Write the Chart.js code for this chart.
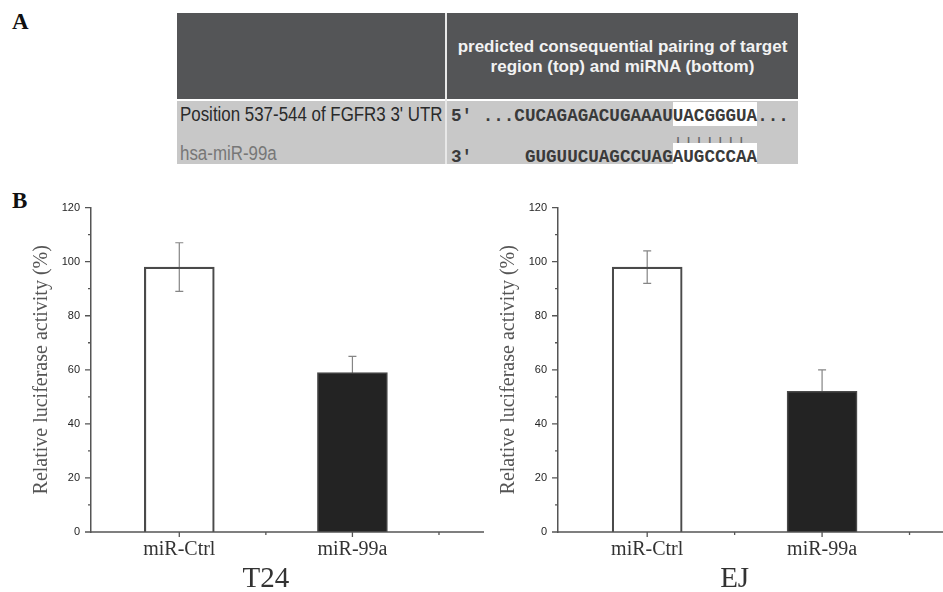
<!DOCTYPE html>
<html>
<head>
<meta charset="utf-8">
<script src="https://cdn.jsdelivr.net/npm/chart.js@4.4.1/dist/chart.umd.min.js"></script>
<style>
  html, body { margin: 0; padding: 0; background: #fff; }
  body { width: 943px; height: 592px; overflow: hidden; position: relative; }
  .abs { position: absolute; white-space: pre; }
  .letter { font: bold 23px "Liberation Serif", serif; line-height: 1; color: #111; }
  .head { background: #545557; }
  .rows { background: #c8c8c8; }
  .htxt { font: bold 17px "Liberation Sans", Arial, sans-serif; color: #f2f2f2; line-height: 20px; text-align: center; }
  .ltxt { font: 20px "Liberation Sans", Arial, sans-serif; line-height: 20px; transform-origin: 0 0; transform: scaleX(0.845); }
  .seq { font: bold 17.6px "Liberation Mono", "Courier New", monospace; line-height: 20px; color: #3a3a3a; }
  .pipes { font: 17.6px "Liberation Mono", "Courier New", monospace; line-height: 20px; color: #666; }
  .hl { background: #fff; padding-top: 4px; }
  canvas { position: absolute; }
</style>
</head>
<body>
<div class="abs letter" style="left:12px; top:10px;">A</div>
<div class="abs letter" style="left:12px; top:189px;">B</div>

<div class="abs head" style="left:177px; top:13px; width:621px; height:86px;"></div>
<div class="abs rows" style="left:177px; top:101px; width:621px; height:63px;"></div>
<div class="abs" style="left:445px; top:13px; width:2px; height:151px; background:#e8e8e8;"></div>
<div class="abs htxt" style="left:447px; top:37px; width:351px;">predicted consequential pairing of target
region (top) and miRNA (bottom)</div>

<div class="abs ltxt" style="left:180px; top:104px; color:#2a2a2a;">Position 537-544 of FGFR3 3' UTR</div>
<div class="abs ltxt" style="left:180px; top:143px; color:#777;">hsa-miR-99a</div>

<div class="abs seq" style="left:451px; top:106px;">5' ...CUCAGAGACUGAAAU<span class="hl">UACGGGUA</span>...</div>
<div class="abs pipes" style="left:451px; top:135px;">                     |||||||</div>
<div class="abs seq" style="left:451px; top:147px;">3'     GUGUUCUAGCCUAG<span class="hl">AUGCCCAA</span></div>

<canvas id="chartT24" width="484" height="402" style="left:0px; top:190px;"></canvas>
<canvas id="chartEJ" width="488" height="402" style="left:467px; top:190px;"></canvas>

<script>
'use strict';
let groups=['miR-Ctrl', 'miR-99a'];
let groupPos=[1, 2];
let t24Values=[98, 59];
let t24Errors=[9, 6];
let ejValues=[98, 52];
let ejErrors=[6, 8];
let yMin=0;
let yMax=120;
let yStep=20;
let yMinorStep=10;
let xMinorTicks=[1.5, 2.5];
let barFills=['rgba(255,255,255,0)', '#232323'];

let serif='"Liberation Serif", "Times New Roman", serif';
let sans='"Liberation Sans", Arial, sans-serif';

// error bars go under the bars, so the black bar hides its lower half
let errorBars={
  id: 'errorBars',
  beforeDatasetsDraw(chart, args, opts){
    let ctx=chart.ctx;
    let xs=chart.scales.x;
    let ys=chart.scales.y;
    ctx.save();
    ctx.strokeStyle='#858585';
    ctx.lineWidth=1.2;
    for(let i=0; i<opts.values.length; i++){
      let x=xs.getPixelForValue(groupPos[i]);
      let top=ys.getPixelForValue(opts.values[i]+opts.errors[i]);
      let bot=ys.getPixelForValue(opts.values[i]-opts.errors[i]);
      ctx.beginPath();
      ctx.moveTo(x, top); ctx.lineTo(x, bot);
      ctx.moveTo(x-4, top); ctx.lineTo(x+4, top);
      ctx.moveTo(x-4, bot); ctx.lineTo(x+4, bot);
      ctx.stroke();
    }
    ctx.restore();
  }
};

// x axis line, outward tick marks (major + minor) and the cell line name
let axisExtras={
  id: 'axisExtras',
  afterDraw(chart, args, opts){
    let ctx=chart.ctx;
    let xs=chart.scales.x;
    let ys=chart.scales.y;
    let area=chart.chartArea;
    ctx.save();
    ctx.strokeStyle='#555';
    ctx.lineWidth=1.5;
    ctx.beginPath();
    ctx.moveTo(area.left, area.bottom);
    ctx.lineTo(area.right, area.bottom);
    ctx.stroke();
    ctx.lineWidth=1.3;
    ctx.beginPath();
    for(let v=yMin; v<=yMax; v+=yMinorStep){
      let y=ys.getPixelForValue(v);
      let len=(v % yStep===0) ? 6 : 3;
      ctx.moveTo(area.left-len, y); ctx.lineTo(area.left, y);
    }
    for(let i=0; i<groupPos.length; i++){
      let x=xs.getPixelForValue(groupPos[i]);
      ctx.moveTo(x, area.bottom); ctx.lineTo(x, area.bottom+5);
    }
    for(let i=0; i<xMinorTicks.length; i++){
      let x=xs.getPixelForValue(xMinorTicks[i]);
      ctx.moveTo(x, area.bottom); ctx.lineTo(x, area.bottom+3);
    }
    ctx.stroke();
    ctx.fillStyle='#333';
    ctx.font='29px '+serif;
    ctx.textAlign='center';
    ctx.textBaseline='alphabetic';
    ctx.fillText(opts.name, xs.getPixelForValue((groupPos[0]+groupPos[1])/2), area.bottom+55);
    ctx.restore();
  }
};

function makeChart(id, name, values, errors, topPad){
  let points=[];
  for(let i=0; i<values.length; i++){
    points.push({x: groupPos[i], y: values[i]});
  }
  let ctx=document.getElementById(id).getContext('2d');
  return new Chart(ctx, {
    type: 'bar',
    data: {
      datasets: [{
        data: points,
        backgroundColor: barFills,
        borderColor: '#4a4a4a',
        borderWidth: 1.5,
        barThickness: 70
      }]
    },
    options: {
      responsive: false,
      animation: false,
      layout: { padding: { top: topPad, left: 0, right: 0, bottom: 0 } },
      plugins: {
        legend: { display: false },
        tooltip: { enabled: false },
        errorBars: { values: values, errors: errors },
        axisExtras: { name: name }
      },
      scales: {
        x: {
          type: 'linear',
          offset: false,
          min: 0.49,
          max: 2.76,
          grid: { display: false, drawTicks: false },
          border: { display: false },
          afterBuildTicks: (s) => { s.ticks=groupPos.map(v => ({value: v})); },
          afterFit: (s) => { s.height=60; s.paddingLeft=0; s.paddingRight=0; },
          ticks: {
            autoSkip: false,
            maxRotation: 0,
            padding: 6,
            color: '#333',
            font: { family: serif, size: 20 },
            callback: (v) => groups[groupPos.indexOf(v)] || ''
          }
        },
        y: {
          min: yMin,
          max: yMax,
          grid: { display: false, drawTicks: false },
          border: { display: true, color: '#555', width: 1.5 },
          afterFit: (s) => { s.width=91; },
          ticks: {
            stepSize: yStep,
            padding: 11,
            color: '#262626',
            font: { family: sans, size: 11 }
          },
          title: {
            display: true,
            text: 'Relative luciferase activity (%)',
            color: '#555',
            font: { family: serif, size: 20 },
            padding: { top: 30, bottom: 0 }
          }
        }
      }
    },
    plugins: [errorBars, axisExtras]
  });
}

makeChart('chartT24', 'T24', t24Values, t24Errors, 17);
makeChart('chartEJ', 'EJ', ejValues, ejErrors, 15);
</script>
</body>
</html>
